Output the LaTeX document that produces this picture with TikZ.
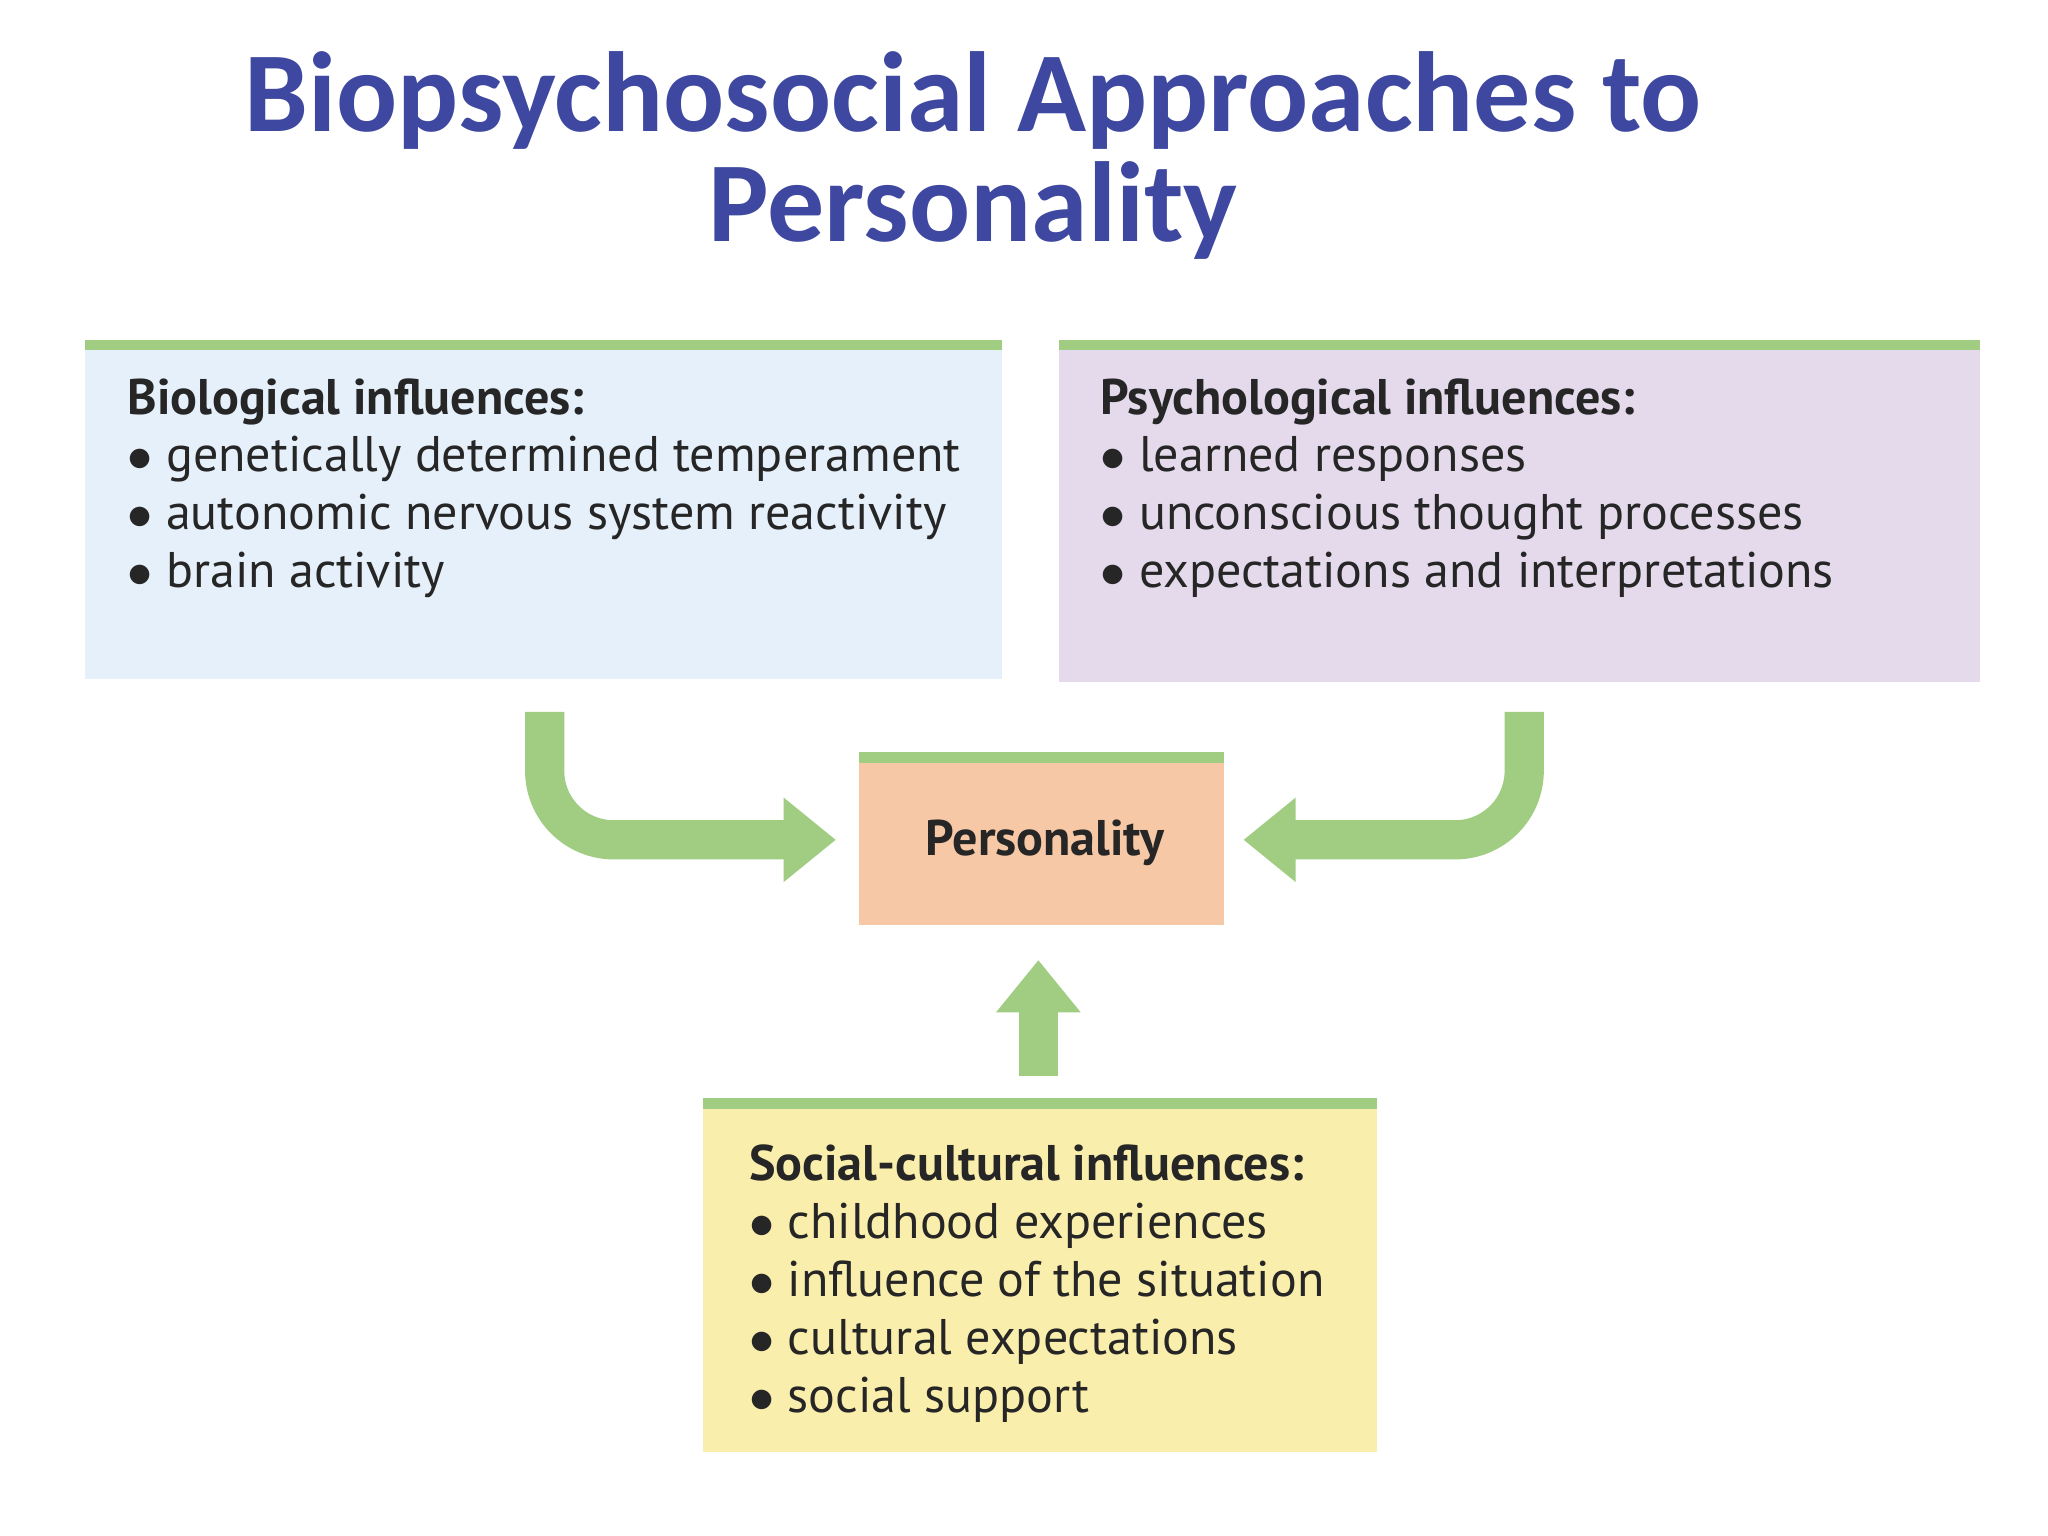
\documentclass[tikz,border=0pt]{standalone}
\usepackage{fontspec}
\setmainfont{Carlito}
\newfontfamily\boxfont{PT Sans}
\usetikzlibrary{arrows.meta}
\definecolor{titleblue}{RGB}{62,72,160}
\definecolor{grn}{RGB}{160,205,130}
\definecolor{bio}{RGB}{230,240,250}
\definecolor{psy}{RGB}{228,218,236}
\definecolor{per}{RGB}{247,200,165}
\definecolor{soc}{RGB}{250,238,172}
\tikzset{
  txt/.style={anchor=north west,align=left,font=\boxfont\fontsize{10.9pt}{12.6pt}\selectfont,text=black!85,inner sep=0pt},
  garrow/.style={draw=grn,line width=0.3cm,-{Triangle[length=0.4cm,width=0.62cm]}},
  bar/.style={fill=grn,draw=none}
}
\begin{document}
\begin{tikzpicture}[x=0.01cm,y=-0.01cm]
\useasboundingbox (0,0) rectangle (1568,1176);
\node[font=\bfseries\fontsize{24.8pt}{24pt}\selectfont,text=titleblue,align=center] (title) at (745,119) {Biopsychosocial Approaches to\\Personality};
% boxes
\fill[bio] (65,260) rectangle (767,520);
\fill[bar] (65,260) rectangle (767,268);
\fill[psy] (811,260) rectangle (1516,522);
\fill[bar] (811,260) rectangle (1516,268);
\fill[per] (658,576) rectangle (937,708);
\fill[bar] (658,576) rectangle (937,584);
\fill[soc] (538,841) rectangle (1054,1112);
\fill[bar] (538,841) rectangle (1054,849);
\node[txt] (bio) at (97,289) {\textbf{Biological influences:}\\$\bullet$ genetically determined temperament\\$\bullet$ autonomic nervous system reactivity\\$\bullet$ brain activity};
\node[txt] (psy) at (842,289) {\textbf{Psychological influences:}\\$\bullet$ learned responses\\$\bullet$ unconscious thought processes\\$\bullet$ expectations and interpretations};
\node[txt] (soc) at (573,876) {\textbf{Social-cultural influences:}\\$\bullet$ childhood experiences\\$\bullet$ influence of the situation\\$\bullet$ cultural expectations\\$\bullet$ social support};
\node[font=\boxfont\bfseries\fontsize{10.9pt}{12pt}\selectfont,text=black!85] (per) at (800,645) {Personality};
\coordinate (a1) at (417,545);
\coordinate (a2) at (640,643);
\coordinate (b1) at (1167,545);
\coordinate (b2) at (952,643);
\coordinate (c1) at (795,824);
\coordinate (c2) at (795,735);
\draw[garrow] (a1) -- (417,590) to[out=-90,in=180] (470,643) -- (a2);
\draw[garrow] (b1) -- (1167,590) to[out=-90,in=0] (1114,643) -- (b2);
\draw[garrow] (c1) -- (c2);
\end{tikzpicture}
\end{document}
